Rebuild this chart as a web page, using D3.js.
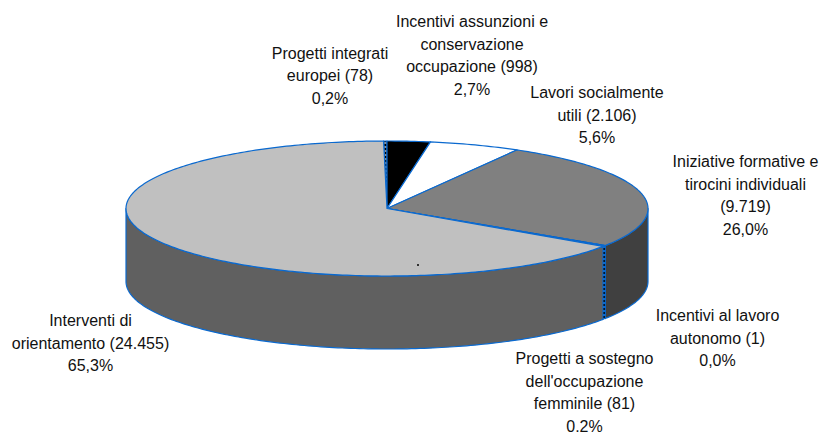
<!DOCTYPE html>
<html>
<head>
<meta charset="utf-8">
<script src="https://cdn.jsdelivr.net/npm/d3@7"></script>
<style>
html, body { margin: 0; padding: 0; background: #fff; overflow: hidden; }
svg { display: block; }
text { font-family: "Liberation Sans", Arial, sans-serif; font-size: 16px; fill: #111; text-anchor: middle; }
</style>
</head>
<body>
<div id="canvas"></div>
<script>
var width = 821, height = 432;

// values, in drawing order clockwise from the top
var categories = ["Progetti integrati europei", "Incentivi assunzioni e conservazione occupazione", "Lavori socialmente utili",
    "Iniziative formative e tirocini individuali", "Incentivi al lavoro autonomo", "Progetti a sostegno dell'occupazione femminile",
    "Interventi di orientamento"];
var values = [78, 998, 2106, 9719, 1, 81, 24455];
var topColors = ["url(#dots)", "#000000", "#ffffff", "#808080", "#000000", "url(#dots)", "#c0c0c0"];
var sideColors = ["#000000", "#000000", "#ffffff", "#404040", "#000000", "url(#sidedots)", "#606060"];

var labelLines = [
    ["Progetti integrati", "europei (78)", "0,2%"],
    ["Incentivi assunzioni e", "conservazione", "occupazione (998)", "2,7%"],
    ["Lavori socialmente", "utili (2.106)", "5,6%"],
    ["Iniziative formative e", "tirocini individuali", "(9.719)", "26,0%"],
    ["Incentivi al lavoro", "autonomo (1)", "0,0%"],
    ["Progetti a sostegno", "dell'occupazione", "femminile (81)", "0.2%"],
    ["Interventi di", "orientamento (24.455)", "65,3%"]
];
var labelX = [330, 472, 597, 745.5, 717.5, 584.5, 90.5];
var labelY = [58.5, 27, 98, 167, 321, 364, 326];
var lineStep = 22.6;

// the ellipse of the pie top
var x = d3.scaleLinear().domain([-1, 1]).range([126, 648]);
var y = d3.scaleLinear().domain([-1, 1]).range([141, 276]);
var depth = 73;

var svg = d3.select("#canvas").append("svg")
    .attr("width", width)
    .attr("height", height);

var defs = svg.append("defs");
function addDots(id, back) {
    var pattern = defs.append("pattern")
        .attr("id", id)
        .attr("patternUnits", "userSpaceOnUse")
        .attr("width", 2)
        .attr("height", 4);
    pattern.append("rect").attr("width", 2).attr("height", 4).attr("fill", back);
    pattern.append("rect").attr("width", 2).attr("height", 2).attr("fill", "#000000");
}
addDots("dots", "#909090");
addDots("sidedots", "#0a69cf");

var pie = d3.pie().sort(null)
    .startAngle(-0.75 * Math.PI / 180)
    .endAngle((360 - 0.75) * Math.PI / 180);
var slices = pie(values);

function rimPoints(a0, a1, dy) {
    var n = Math.max(2, Math.ceil((a1 - a0) * 60));
    return d3.range(n + 1).map(function (i) {
        var a = a0 + (a1 - a0) * i / n;
        return [x(Math.sin(a)), y(-Math.cos(a)) + dy];
    });
}

var line = d3.line();
var blue = "#0a69cf";

// side wall, only the front half of the rim shows
var front = slices.filter(function (d) {
    return d.endAngle > Math.PI / 2 && d.startAngle < 3 * Math.PI / 2;
});
svg.selectAll("path.side").data(front).enter().append("path")
    .attr("class", "side")
    .attr("d", function (d) {
        var a0 = Math.max(d.startAngle, Math.PI / 2), a1 = Math.min(d.endAngle, 3 * Math.PI / 2);
        var pts = rimPoints(a0, a1, 0).concat(rimPoints(a0, a1, depth).reverse());
        return line(pts) + "Z";
    })
    .attr("fill", function (d) { return sideColors[d.index]; })
    .attr("stroke", blue)
    .attr("stroke-width", 1.2)
    .attr("stroke-linejoin", "round");

// the thin slice has to stay on top of its neighbours' outlines
svg.selectAll("path.side").filter(function (d) { return d.index === 5; }).raise()
    .attr("stroke-width", 0.6);

// top face
svg.selectAll("path.top").data(slices).enter().append("path")
    .attr("class", "top")
    .attr("d", function (d) {
        return line([[x(0), y(0)]].concat(rimPoints(d.startAngle, d.endAngle, 0))) + "Z";
    })
    .attr("fill", function (d) { return topColors[d.index]; })
    .attr("stroke", blue)
    .attr("stroke-width", 1.2)
    .attr("stroke-linejoin", "round");

// stray tick sitting on the pie in the original
svg.append("rect")
    .attr("x", 417)
    .attr("y", 264)
    .attr("width", 2)
    .attr("height", 2)
    .attr("fill", "#333333");

var labels = svg.selectAll("text.label").data(labelLines).enter().append("text")
    .attr("class", "label")
    .attr("data-category", function (d, i) { return categories[i]; })
    .attr("y", function (d, i) { return labelY[i]; });
labels.selectAll("tspan").data(function (d, i) {
    return d.map(function (t) { return { t: t, i: i }; });
}).enter().append("tspan")
    .attr("x", function (d) { return labelX[d.i]; })
    .attr("dy", function (d, j) { return j ? lineStep : 0; })
    .text(function (d) { return d.t; });
</script>
</body>
</html>
